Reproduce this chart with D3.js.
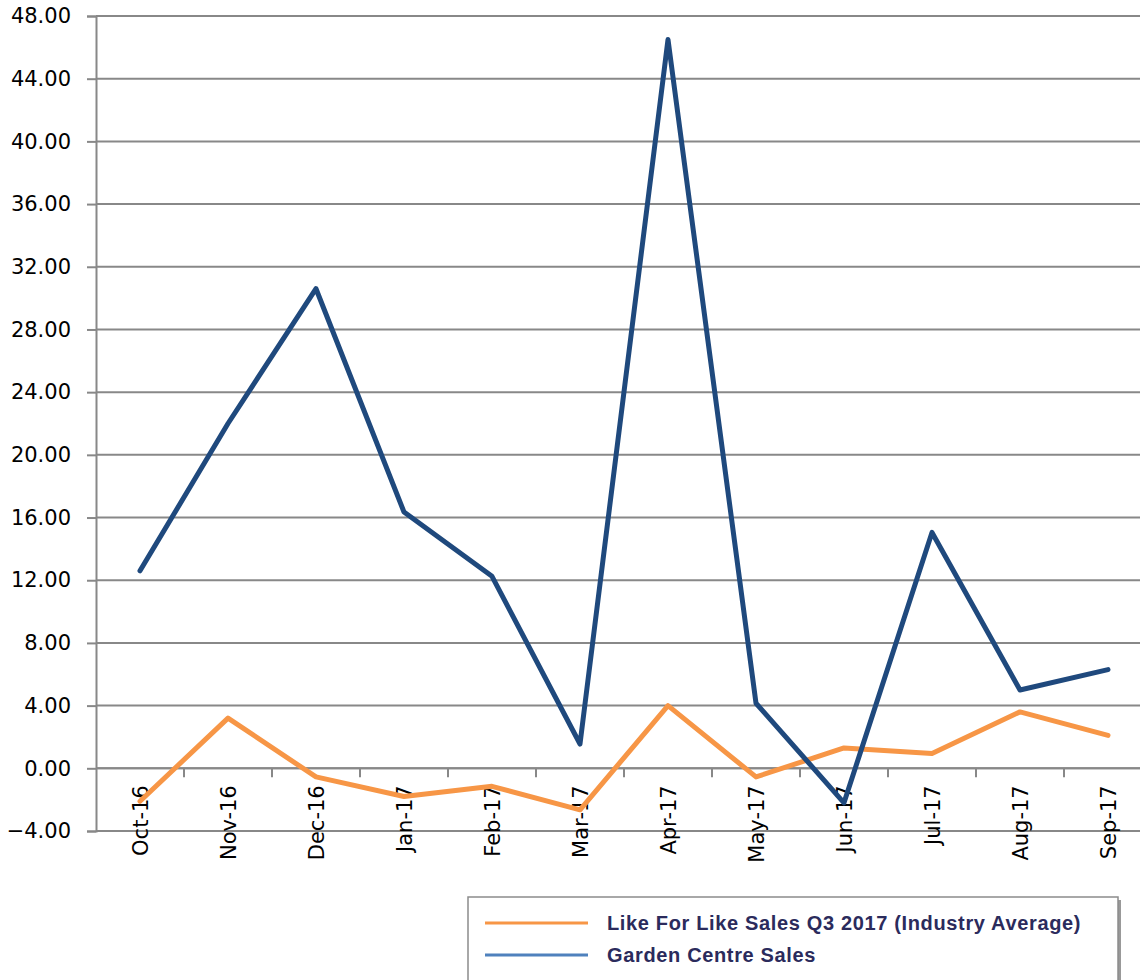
<!DOCTYPE html>
<html lang="en">
<head>
    <meta charset="UTF-8">
    <title>Garden Centre Sales</title>
    <style>
        body {
            margin: 0;
            background: #fff;
        }
        svg {
            display: block;
        }
        .axis-label {
            font-family: "DejaVu Sans", sans-serif;
            font-size: 21px;
            fill: #000;
        }
        .legend-text {
            font-family: "Liberation Sans", Arial, sans-serif;
            font-size: 20px;
            font-weight: bold;
            letter-spacing: 0.65px;
            fill: #2b2b5c;
        }
    </style>
</head>
<body>
    <svg width="1140" height="980"></svg>

    <script src="https://d3js.org/d3.v7.min.js"></script>
    <script>
        // chart data
        const months = ["Oct-16", "Nov-16", "Dec-16", "Jan-17", "Feb-17", "Mar-17",
                        "Apr-17", "May-17", "Jun-17", "Jul-17", "Aug-17", "Sep-17"];
        const likeForLike = [-2.1, 3.2, -0.55, -1.8, -1.15, -2.65, 4.0, -0.55, 1.3, 0.95, 3.6, 2.1];
        const gardenCentre = [12.6, 22.0, 30.6, 16.35, 12.25, 1.55, 46.5, 4.15, -2.2, 15.05, 5.0, 6.3];
        const yTicks = [-4, 0, 4, 8, 12, 16, 20, 24, 28, 32, 36, 40, 44, 48];
        const seriesNames = ["Like For Like Sales Q3 2017 (Industry Average)", "Garden Centre Sales"];

        const svg = d3.select("svg");
        const plotLeft = 96, plotTop = 16, plotBottom = 831, band = 88;

        let x = d3.scaleBand().domain(months).range([plotLeft, plotLeft + band * months.length]);
        let y = d3.scaleLinear().domain([-4, 48]).range([plotBottom, plotTop]);

        // horizontal gridlines
        svg.append("g")
            .selectAll("line")
            .data(yTicks)
            .enter()
            .append("line")
            .attr("x1", plotLeft)
            .attr("x2", 1140)
            .attr("y1", d => y(d))
            .attr("y2", d => y(d))
            .style("stroke", "#888")
            .style("stroke-width", 2);

        // y axis
        let yAxis = d3.axisLeft(y)
            .tickValues(yTicks)
            .tickFormat(d3.format(".2f"))
            .tickSize(9)
            .tickPadding(16);

        let gy = svg.append("g")
            .attr("transform", `translate(${plotLeft}, 0)`)
            .call(yAxis);
        gy.select(".domain").attr("stroke", "#888").attr("stroke-width", 2);
        gy.selectAll(".tick line").attr("stroke", "#888").attr("stroke-width", 2);
        gy.selectAll(".tick text")
            .attr("class", "axis-label")
            .attr("fill", "#000")
            .style("font-family", "DejaVu Sans, sans-serif")
            .style("font-size", "21px");

        // x axis at zero, ticks between categories
        let zeroY = y(0);
        svg.append("line")
            .attr("x1", plotLeft)
            .attr("x2", 1140)
            .attr("y1", zeroY)
            .attr("y2", zeroY)
            .style("stroke", "#888")
            .style("stroke-width", 2);

        svg.append("g")
            .selectAll("line")
            .data(months.slice(1))
            .enter()
            .append("line")
            .attr("x1", d => x(d))
            .attr("x2", d => x(d))
            .attr("y1", zeroY)
            .attr("y2", zeroY + 9)
            .style("stroke", "#888")
            .style("stroke-width", 2);

        svg.append("g")
            .selectAll("text")
            .data(months)
            .enter()
            .append("text")
            .attr("class", "axis-label")
            .attr("transform", d => `translate(${x(d) + band / 2}, ${zeroY + 17}) rotate(-90)`)
            .attr("text-anchor", "end")
            .attr("dy", "0.36em")
            .text(d => d);

        // lines
        let line = d3.line()
            .x((d, i) => x(months[i]) + band / 2)
            .y(d => y(d));

        svg.append("path")
            .datum(likeForLike)
            .attr("d", line)
            .style("fill", "none")
            .style("stroke", "#f79646")
            .style("stroke-width", 5)
            .style("stroke-linejoin", "round")
            .style("stroke-linecap", "round");

        svg.append("path")
            .datum(gardenCentre)
            .attr("d", line)
            .style("fill", "none")
            .style("stroke", "#1f497d")
            .style("stroke-width", 5)
            .style("stroke-linejoin", "round")
            .style("stroke-linecap", "round");

        // legend
        let legend = svg.append("g");
        legend.append("rect")
            .attr("x", 471)
            .attr("y", 900)
            .attr("width", 650)
            .attr("height", 120)
            .style("fill", "#999");
        legend.append("rect")
            .attr("x", 468)
            .attr("y", 897)
            .attr("width", 650)
            .attr("height", 120)
            .style("fill", "#fff")
            .style("stroke", "#8c8c8c")
            .style("stroke-width", 1.5);

        let legendColors = ["#f79646", "#4f81bd"];
        seriesNames.forEach((name, i) => {
            let ly = 923 + i * 32;
            legend.append("line")
                .attr("x1", 485)
                .attr("x2", 588)
                .attr("y1", ly)
                .attr("y2", ly)
                .style("stroke", legendColors[i])
                .style("stroke-width", 3);
            legend.append("text")
                .attr("class", "legend-text")
                .attr("x", 607)
                .attr("y", ly)
                .attr("dy", "0.35em")
                .text(name);
        });
    </script>
</body>
</html>
